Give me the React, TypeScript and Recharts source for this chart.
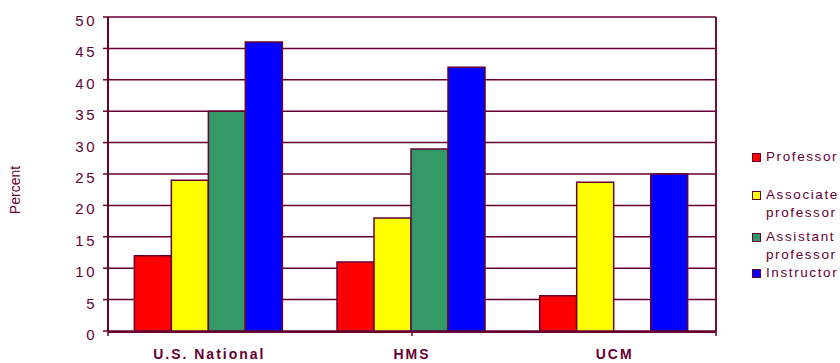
import React from 'react';
import { BarChart, Bar, XAxis, YAxis, CartesianGrid, ReferenceLine } from 'recharts';

const CATEGORIES = ['U.S. National', 'HMS', 'UCM'];
const PROFESSOR = [12, 11, 5.6];
const ASSOCIATE = [24, 18, 23.7];
const ASSISTANT = [35, 29, null];
const INSTRUCTOR = [46, 42, 25];
const Y_TICKS = [0, 5, 10, 15, 20, 25, 30, 35, 40, 45, 50];
const EDGE_TICKS = [0, 1, 2, 3];

const MAROON = '#660033';
const FONT = '"Liberation Sans", Arial, sans-serif';

const SERIES = [
  { key: 'professor', name: 'Professor', lines: ['Professor'], color: '#ff0000' },
  { key: 'associate', name: 'Associate professor', lines: ['Associate', 'professor'], color: '#ffff00' },
  { key: 'assistant', name: 'Assistant professor', lines: ['Assistant', 'professor'], color: '#339966' },
  { key: 'instructor', name: 'Instructor', lines: ['Instructor'], color: '#0000ff' },
];
const LEGEND_GAPS = [20, 6, 0, 0];

const data = CATEGORIES.map((name, i) => ({
  name,
  professor: PROFESSOR[i],
  associate: ASSOCIATE[i],
  assistant: ASSISTANT[i],
  instructor: INSTRUCTOR[i],
}));

const LegendBox = () => (
  <div style={{ position: 'absolute', left: 752, top: 148, fontFamily: FONT, fontSize: 13.5, color: MAROON, letterSpacing: 1.6 }}>
    {SERIES.map((s, i) => (
      <div key={s.key} style={{ display: 'flex', alignItems: 'flex-start', marginBottom: LEGEND_GAPS[i], lineHeight: '18px' }}>
        <span style={{ display: 'inline-block', width: 7, height: 7, background: s.color, border: `1.5px solid ${MAROON}`, marginTop: 5, marginRight: 5, flexShrink: 0 }} />
        <span>{s.lines.map((l, j) => <div key={j}>{l}</div>)}</span>
      </div>
    ))}
  </div>
);

const YTick = (props: any) => {
  const { x, y, payload } = props;
  return (
    <text x={x} y={y} dy={9} textAnchor="end" fill={MAROON} fontSize={15} fontFamily={FONT} letterSpacing={2.5}>
      {payload.value}
    </text>
  );
};

export default function App() {
  return (
    <div style={{ position: 'fixed', left: 0, top: 0, width: 840, height: 363, background: '#fff' }}>
      <BarChart
        width={840}
        height={363}
        data={data}
        margin={{ top: 17, right: 123, bottom: 0, left: 0 }}
        barCategoryGap="13%"
        barGap={0}
      >
        <CartesianGrid horizontal vertical={false} stroke={MAROON} strokeWidth={1.5} xAxisId="z" />
        <XAxis
          xAxisId="a"
          type="number"
          domain={[0, 3]}
          ticks={EDGE_TICKS}
          tickFormatter={() => ''}
          axisLine={false}
          tickLine={{ stroke: MAROON, strokeWidth: 1.5 }}
          tickSize={5}
          height={1}
        />
        <XAxis
          xAxisId="z"
          dataKey="name"
          axisLine={{ stroke: MAROON, strokeWidth: 2 }}
          tickLine={false}
          height={31}
          tick={{ fill: MAROON, fontSize: 14, fontWeight: 'bold', fontFamily: FONT, letterSpacing: 2 }}
          tickMargin={11}
        />
        <YAxis
          domain={[0, 50]}
          ticks={Y_TICKS}
          interval={0}
          width={108}
          axisLine={{ stroke: MAROON, strokeWidth: 2 }}
          tickLine={{ stroke: MAROON, strokeWidth: 1.5 }}
          tickSize={5}
          tickMargin={6}
          tick={<YTick />}
          label={{
            content: (props: any) => {
              const vb = props.viewBox || {};
              const cy = (vb.y || 0) + (vb.height || 0) / 2 + 16;
              return (
                <text x={20} y={cy} transform={`rotate(-90, 20, ${cy})`} textAnchor="middle" fill={MAROON} fontSize={14} fontFamily={FONT}>
                  Percent
                </text>
              );
            },
          }}
        />
        <YAxis
          yAxisId="r"
          orientation="right"
          width={1}
          domain={[0, 50]}
          tick={false}
          tickLine={false}
          axisLine={{ stroke: MAROON, strokeWidth: 1.5 }}
        />
        <ReferenceLine
          xAxisId="z"
          x={CATEGORIES[CATEGORIES.length - 1]}
          position="end"
          stroke={MAROON}
          strokeWidth={1.5}
        />
        {SERIES.map((s) => (
          <Bar
            key={s.key}
            xAxisId="z"
            dataKey={s.key}
            name={s.name}
            fill={s.color}
            stroke={MAROON}
            strokeWidth={1.5}
            isAnimationActive={false}
          />
        ))}
      </BarChart>
      <LegendBox />
    </div>
  );
}
